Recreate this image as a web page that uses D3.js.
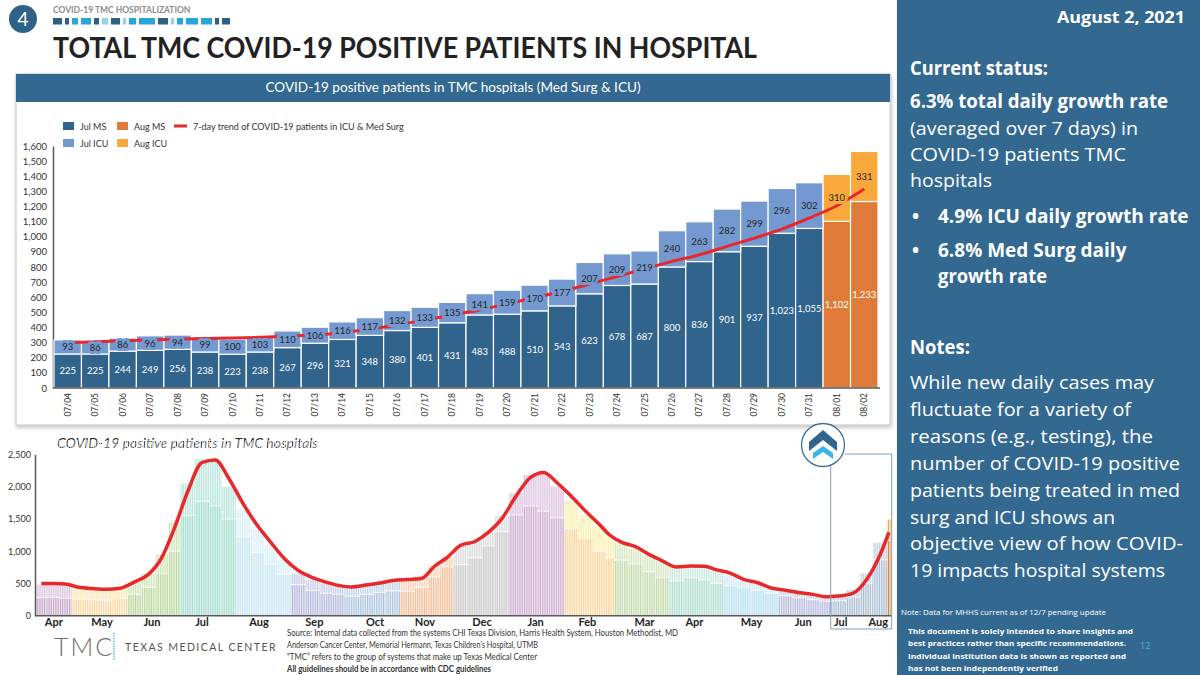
<!DOCTYPE html>
<html>
<head>
<meta charset="utf-8">
<script src="https://cdn.jsdelivr.net/npm/d3@7"></script>
<style>
  body { margin: 0; background: #fff; }
  svg { display: block; font-family: Lato, "Open Sans", sans-serif; }
</style>
</head>
<body>
<svg id="slide" width="1200" height="675"></svg>
<script>
// ---- top chart: July/Aug 2021 daily census ----
var days = ["07/04","07/05","07/06","07/07","07/08","07/09","07/10","07/11","07/12","07/13",
            "07/14","07/15","07/16","07/17","07/18","07/19","07/20","07/21","07/22","07/23",
            "07/24","07/25","07/26","07/27","07/28","07/29","07/30","07/31","08/01","08/02"];
var msValues  = [225,225,244,249,256,238,223,238,267,296,321,348,380,401,431,483,488,510,543,623,
                 678,687,800,836,901,937,1023,1055,1102,1233];
var icuValues = [93,86,86,96,94,99,100,103,110,106,116,117,132,133,135,141,159,170,177,207,
                 209,219,240,263,282,299,296,302,310,331];
var trendValues = [300,305,312,318,324,327,330,335,342,352,366,390,417,450,483,516,556,598,638,688,
                   737,788,837,881,936,991,1051,1124,1205,1315];
var topTicks = d3.range(0, 1601, 100);

// ---- bottom chart: history since April 2020, 4 periods per month ----
var monthStarts = ["2020-04-11","2020-05-01","2020-06-01","2020-07-01","2020-08-01","2020-09-01",
                   "2020-10-01","2020-11-01","2020-12-01","2021-01-01","2021-02-01","2021-03-01",
                   "2021-04-01","2021-05-01","2021-06-01","2021-07-01","2021-08-01"];
var lastDay = "2021-08-03";
var binTotals = [480,485,470, 430,420,410,420, 520,650,950,1450, 2050,2430,2400,2000,
                 1650,1350,1100,860, 650,560,500,460, 440,470,500,540, 560,620,780,910,
                 1080,1150,1300,1550, 1900,2180,2200,2000, 1780,1560,1380,1230,
                 1130,1040,930,830, 760,780,760,690, 630,540,490,420, 390,350,320,290,
                 330,399,657,1128, 1488];
var binMS = [280,285,270, 260,250,240,270, 330,440,650,1000, 1550,1770,1700,1500,
             1220,980,800,640, 480,390,350,330, 300,330,360,385, 375,440,600,760,
             790,900,1080,1300, 1560,1700,1620,1520, 1350,1200,1000,900,
             860,800,680,590, 540,590,560,500, 460,430,390,350, 310,280,250,220,
             235,289,497,865, 1168];
var binTrend = [500,498,490, 440,420,410,425, 520,640,900,1350, 1920,2370,2410,2130,
                1740,1400,1140,890, 700,590,520,470, 445,475,505,545, 560,575,770,905,
                1090,1150,1290,1500, 1850,2140,2220,2060, 1850,1620,1420,1250,
                1140,1070,950,850, 755,770,765,710, 660,560,510,430, 395,356,330,295,
                305,350,560,940, 1290];
var bottomTicks = [0,500,1000,1500,2000,2500];
var monthLabels = [["2020-04-21","Apr"],["2020-05-18","May"],["2020-06-15","Jun"],["2020-07-13","Jul"],
                   ["2020-08-14","Aug"],["2020-09-14","Sep"],["2020-10-18","Oct"],["2020-11-15","Nov"],
                   ["2020-12-17","Dec"],["2021-01-16","Jan"],["2021-02-14","Feb"],["2021-03-18","Mar"],
                   ["2021-04-15","Apr"],["2021-05-17","May"],["2021-06-15","Jun"],["2021-07-06","Jul"],
                   ["2021-07-27","Aug"]];
var monthColors = [["#c5a3c9","#dcc0df"],["#f9d7a0","#fce6b0"],["#b9d69c","#cfe3b5"],["#9edbcb","#b5e4d8"],
                   ["#c3e4f2","#d7eef7"],["#b3b5dc","#c8cae8"],["#a9c3de","#bfd3e8"],["#f5bb93","#f9d0b1"],
                   ["#c6c6c6","#d9d9d9"],["#cba8ce","#dcc0de"],["#fad398","#fcefaa"],["#c1d9a7","#d3e6bf"],
                   ["#acdccd","#c6e8dd"],["#b5ddf0","#cde9f5"],["#b4b7dd","#cacde9"],["#a8bcd2","#c0cfdf"],
                   ["#e07b39","#f9a83b"]];

var svg = d3.select("#slide");
var parse = d3.timeParse("%Y-%m-%d");
var fmt = d3.format(",");

// squeeze/stretch a text to the width it has on the slide
function fit(sel, w) {
  sel.each(function () {
    var len = this.getComputedTextLength();
    if (Math.abs(len - w) / w > 0.015) {
      this.setAttribute("textLength", w);
      this.setAttribute("lengthAdjust", "spacingAndGlyphs");
    }
  });
  return sel;
}

var defs = svg.append("defs");
defs.append("filter").attr("id", "shadow").attr("x", "-5%").attr("y", "-5%").attr("width", "110%").attr("height", "115%")
  .append("feDropShadow").attr("dx", 1).attr("dy", 2).attr("stdDeviation", 2).attr("flood-opacity", 0.25);

// ---------- header ----------
svg.append("circle").attr("cx", 23).attr("cy", 19).attr("r", 14).attr("fill", "#2e6289");
svg.append("text").attr("x", 23).attr("y", 26).attr("text-anchor", "middle")
  .attr("fill", "#fff").style("font-size", "19px").text("4");
fit(svg.append("text").attr("x", 53).attr("y", 13).attr("fill", "#8c8c8c")
  .style("font-size", "8.5px").style("font-weight", "bold").text("COVID-19 TMC HOSPITALIZATION"), 139);

var decor = [[9,0],[4,0],[6,1],[10,1],[5,0],[6,2],[9,0],[3,2],[7,1],[16,1],[10,0],[3,2],[6,1],[12,1],[11,1],[4,0],[8,0]];
var decorColors = ["#2d5f87", "#2aa5dc", "#93d2ef"];
var dx = 53;
decor.forEach(function (d) {
  svg.append("rect").attr("x", dx).attr("y", 18).attr("width", d[0]).attr("height", 6.5).attr("fill", decorColors[d[1]]);
  dx += d[0] + 3;
});
fit(svg.append("text").attr("x", 53).attr("y", 58).attr("fill", "#222")
  .style("font-size", "28px").style("font-weight", "bold")
  .text("TOTAL TMC COVID-19 POSITIVE PATIENTS IN HOSPITAL"), 704);

// ---------- top chart frame ----------
svg.append("rect").attr("x", 16).attr("y", 74).attr("width", 874).attr("height", 351)
  .attr("fill", "#fff").attr("stroke", "#c4c4c4").attr("filter", "url(#shadow)");
svg.append("rect").attr("x", 16).attr("y", 74).attr("width", 874).attr("height", 28).attr("fill", "#336891");
fit(svg.append("text").attr("x", 453).attr("y", 92).attr("text-anchor", "middle").attr("fill", "#fff")
  .style("font-size", "13px").text("COVID-19 positive patients in TMC hospitals (Med Surg & ICU)"), 375);

// ---------- top chart ----------
var topRows = days.map(function (d, i) {
  return { day: d, ms: msValues[i], icu: icuValues[i], trend: trendValues[i], aug: d.slice(0, 2) === "08" };
});
var xb = d3.scaleBand().domain(days).range([54, 878]).padding(0);
var yb = d3.scaleLinear().domain([0, 1600]).range([388, 146]);
var colMS = "#30648c", colICU = "#7399d0", colAugMS = "#df7a38", colAugICU = "#f9a93c";

var gTop = svg.append("g");
gTop.append("g").attr("transform", "translate(53,0)")
  .call(d3.axisLeft(yb).tickValues(topTicks).tickSize(0).tickPadding(6).tickFormat(fmt))
  .call(function (g) {
    g.select(".domain").attr("stroke", "#595959").attr("stroke-width", 1.5);
    g.selectAll("text").attr("fill", "#333").style("font-size", "9.5px").style("font-family", "Lato");
  });

gTop.selectAll("rect.ms").data(topRows).enter().append("rect").attr("class", "ms")
  .attr("x", function (d) { return xb(d.day); })
  .attr("width", xb.bandwidth())
  .attr("y", function (d) { return yb(d.ms); })
  .attr("height", function (d) { return yb(0) - yb(d.ms); })
  .attr("fill", function (d) { return d.aug ? colAugMS : colMS; })
  .attr("stroke", "#fff").attr("stroke-width", 1.2);
gTop.selectAll("rect.icu").data(topRows).enter().append("rect").attr("class", "icu")
  .attr("x", function (d) { return xb(d.day); })
  .attr("width", xb.bandwidth())
  .attr("y", function (d) { return yb(d.ms + d.icu); })
  .attr("height", function (d) { return yb(d.ms) - yb(d.ms + d.icu); })
  .attr("fill", function (d) { return d.aug ? colAugICU : colICU; })
  .attr("stroke", "#fff").attr("stroke-width", 1.2);

gTop.append("g").attr("transform", "translate(0,388)")
  .call(d3.axisBottom(xb).tickSize(0).tickSizeOuter(0))
  .call(function (g) {
    g.select(".domain").attr("stroke", "#595959").attr("stroke-width", 1.5).attr("d", "M53,0H880");
    g.selectAll("text").attr("fill", "#333").style("font-size", "8.5px").style("font-family", "Lato")
      .attr("y", 0).attr("x", -5).attr("dy", "0.35em")
      .attr("transform", "rotate(-90)").style("text-anchor", "end");
  });

var trendLine = d3.line()
  .x(function (d) { return xb(d.day) + xb.bandwidth() / 2; })
  .y(function (d) { return yb(d.trend); })
  .curve(d3.curveMonotoneX);
gTop.append("path").datum(topRows).attr("d", trendLine)
  .attr("fill", "none").attr("stroke", "#e8292c").attr("stroke-width", 3);

gTop.selectAll("text.msl").data(topRows).enter().append("text").attr("class", "msl")
  .attr("x", function (d) { return xb(d.day) + xb.bandwidth() / 2; })
  .attr("y", function (d) { return yb(d.ms / 2) + 3.5; })
  .attr("text-anchor", "middle").style("font-size", "9.5px")
  .attr("fill", "#fff")
  .text(function (d) { return fmt(d.ms); });
gTop.selectAll("text.icul").data(topRows).enter().append("text").attr("class", "icul")
  .attr("x", function (d) { return xb(d.day) + xb.bandwidth() / 2; })
  .attr("y", function (d) { return yb(d.ms + d.icu / 2) + 3.5; })
  .attr("text-anchor", "middle").style("font-size", "9.5px")
  .attr("fill", "#262626")
  .attr("stroke", function (d) { return d.aug ? colAugICU : colICU; })
  .attr("stroke-width", 6).attr("paint-order", "stroke").attr("stroke-linejoin", "round")
  .text(function (d) { return fmt(d.icu); });

// legend
var legendItems = [["Jul MS", colMS, 63, 122], ["Aug MS", colAugMS, 117, 122],
                   ["Jul ICU", colICU, 63, 139], ["Aug ICU", colAugICU, 117, 139]];
legendItems.forEach(function (l) {
  gTop.append("rect").attr("x", l[2]).attr("y", l[3]).attr("width", 11).attr("height", 8).attr("fill", l[1]);
  gTop.append("text").attr("x", l[2] + 17).attr("y", l[3] + 8).attr("fill", "#333")
    .style("font-size", "9px").text(l[0]);
});
gTop.append("line").attr("x1", 174).attr("x2", 187).attr("y1", 126).attr("y2", 126)
  .attr("stroke", "#e8292c").attr("stroke-width", 3);
gTop.append("text").attr("x", 193).attr("y", 130).attr("fill", "#333").style("font-size", "9px")
  .text("7-day trend of COVID-19 patients in ICU & Med Surg");

// ---------- bottom chart ----------
var cuts = [1, 9, 17, 24];
var bins = [];
monthStarts.forEach(function (s, mi) {
  var start = parse(s);
  var end = mi + 1 < monthStarts.length ? parse(monthStarts[mi + 1]) : parse(lastDay);
  var edges = [start].concat(cuts.map(function (c) {
    return new Date(start.getFullYear(), start.getMonth(), c);
  }).filter(function (d) { return d > start && d < end; }));
  edges.push(end);
  for (var k = 0; k < edges.length - 1; k++) bins.push({ x0: edges[k], x1: edges[k + 1], month: mi });
});
bins.forEach(function (b, i) { b.total = binTotals[i]; b.ms = binMS[i]; b.trend = binTrend[i]; });

var xt = d3.scaleTime().domain([parse(monthStarts[0]), parse(lastDay)]).range([36, 890.7]);
var yt = d3.scaleLinear().domain([0, 2500]).range([615.7, 454.3]);
var dayW = xt(parse("2020-04-12")) - xt(parse("2020-04-11"));

var gBot = svg.append("g");
fit(gBot.append("text").attr("x", 57).attr("y", 448).attr("fill", "#222")
  .style("font-size", "14px").style("font-style", "italic")
  .text("COVID-19 positive patients in TMC hospitals"), 263);

gBot.selectAll("rect.bms").data(bins).enter().append("rect").attr("class", "bms")
  .attr("x", function (d) { return xt(d.x0); })
  .attr("width", function (d) { return xt(d.x1) - xt(d.x0); })
  .attr("y", function (d) { return yt(d.ms); })
  .attr("height", function (d) { return yt(0) - yt(d.ms); })
  .attr("fill", function (d) { return monthColors[d.month][0]; });
gBot.selectAll("rect.bicu").data(bins).enter().append("rect").attr("class", "bicu")
  .attr("x", function (d) { return xt(d.x0); })
  .attr("width", function (d) { return xt(d.x1) - xt(d.x0); })
  .attr("y", function (d) { return yt(d.total); })
  .attr("height", function (d) { return yt(d.ms) - yt(d.total); })
  .attr("fill", function (d) { return monthColors[d.month][1]; });
gBot.selectAll("line.sep").data(bins).enter().append("line").attr("class", "sep")
  .attr("x1", function (d) { return xt(d.x0); })
  .attr("x2", function (d) { return xt(d.x1); })
  .attr("y1", function (d) { return yt(d.ms); })
  .attr("y2", function (d) { return yt(d.ms); })
  .attr("stroke", "#fff").attr("stroke-width", 1.2).attr("stroke-dasharray", "2,1.2");

// thin white gaps between days, as in the daily bars
var pat = defs.append("pattern").attr("id", "daygaps").attr("patternUnits", "userSpaceOnUse")
  .attr("x", 36).attr("y", 0).attr("width", dayW).attr("height", 10);
pat.append("rect").attr("x", 0).attr("y", 0).attr("width", 0.75).attr("height", 10).attr("fill", "#fff").attr("opacity", 0.9);
gBot.append("rect").attr("x", 36).attr("y", 440).attr("width", 855).attr("height", 176).attr("fill", "url(#daygaps)");

var botLine = d3.line()
  .x(function (d) { return xt(new Date((+d.x0 + +d.x1) / 2)); })
  .y(function (d) { return yt(d.trend); })
  .curve(d3.curveMonotoneX);
gBot.append("path").datum(bins).attr("d", botLine)
  .attr("fill", "none").attr("stroke", "#e8292c").attr("stroke-width", 3.5).attr("stroke-linejoin", "round");

gBot.append("g").attr("transform", "translate(35,0)")
  .call(d3.axisLeft(yt).tickValues(bottomTicks).tickSize(0).tickSizeOuter(0).tickPadding(4).tickFormat(fmt))
  .call(function (g) {
    g.select(".domain").attr("stroke", "#595959").attr("stroke-width", 1.5);
    g.selectAll("text").attr("fill", "#333").style("font-size", "9px").style("font-family", "Lato");
  });
gBot.append("line").attr("x1", 35).attr("x2", 891).attr("y1", 615.7).attr("y2", 615.7)
  .attr("stroke", "#595959").attr("stroke-width", 1.5);

gBot.selectAll("text.mon").data(monthLabels).enter().append("text").attr("class", "mon")
  .attr("x", function (d) { return xt(parse(d[0])); })
  .attr("y", 626).attr("text-anchor", "middle").attr("fill", "#222")
  .style("font-size", "11px").style("font-weight", "bold")
  .text(function (d) { return d[1]; });

// zoom-in marker (circle with chevrons and bracket round Jul/Aug)
gBot.append("path").attr("d", "M830.7,465V629H891.7V454H845")
  .attr("fill", "none").attr("stroke", "#7f9fbb").attr("stroke-width", 1);
gBot.append("circle").attr("cx", 823).attr("cy", 445).attr("r", 21.5)
  .attr("fill", "#fff").attr("stroke", "#3f6f94").attr("stroke-width", 1.3);
gBot.append("path").attr("d", "M823,430L837,442V451L823,440L809,451V442Z").attr("fill", "#2f6690");
gBot.append("path").attr("d", "M823,446L833,453V459L823,452L813,459V453Z").attr("fill", "#3ab4ea");

// ---------- footer ----------
svg.append("text").attr("x", 54).attr("y", 656).attr("fill", "#707070")
  .style("font-size", "25px").style("font-weight", "300").style("letter-spacing", "2px").text("TMC");
svg.append("line").attr("x1", 114).attr("x2", 114).attr("y1", 633).attr("y2", 660)
  .attr("stroke", "#4aa6d6").attr("stroke-width", 1.2).attr("stroke-dasharray", "1.5,1");
fit(svg.append("text").attr("x", 125).attr("y", 651).attr("fill", "#555")
  .style("font-size", "11px").style("letter-spacing", "1.5px").text("TEXAS MEDICAL CENTER"), 152);

var sourceLines = [
  ["Source: Internal data collected from the systems CHI Texas Division, Harris Health System, Houston Methodist, MD", 391, false],
  ["Anderson Cancer Center, Memorial Hermann, Texas Children\u2019s Hospital, UTMB", 251, false],
  ["\u201CTMC\u201D refers to the group of systems that make up Texas Medical Center", 250, false],
  ["All guidelines should be in accordance with CDC guidelines", 204, true]
];
sourceLines.forEach(function (s, i) {
  fit(svg.append("text").attr("x", 287).attr("y", 636 + i * 12).attr("fill", "#333")
    .style("font-size", "8.5px").style("font-weight", s[2] ? "bold" : "normal").text(s[0]), s[1]);
});

// ---------- right panel ----------
var rp = svg.append("g").style("font-family", "'Open Sans', sans-serif");
rp.append("rect").attr("x", 897).attr("y", 0).attr("width", 303).attr("height", 675).attr("fill", "#336891");
function ptext(str, x, y, size, bold, w, anchor) {
  var t = rp.append("text").attr("x", x).attr("y", y).attr("fill", "#fff")
    .attr("text-anchor", anchor || "start")
    .style("font-size", size + "px").style("font-weight", bold ? "bold" : "normal").text(str);
  if (w) fit(t, w);
  return t;
}
ptext("August 2, 2021", 1185, 23, 16, true, 128, "end");
ptext("Current status:", 910, 75, 19, true, 138);
ptext("6.3% total daily growth rate", 910, 108, 19, true, 258);
ptext("(averaged over 7 days) in", 910, 135, 19, false, 228);
ptext("COVID-19 patients TMC", 910, 161, 19, false, 216);
ptext("hospitals", 910, 187, 19, false, 82);
ptext("\u2022", 912, 223, 19, true);
ptext("4.9% ICU daily growth rate", 938, 223, 19, true, 247);
ptext("\u2022", 912, 257, 19, true);
ptext("6.8% Med Surg daily", 938, 257, 19, true, 190);
ptext("growth rate", 938, 283, 19, true, 109);
ptext("Notes:", 910, 354, 19, true, 60);
var notes = [["While new daily cases may", 244], ["fluctuate for a variety of", 221],
             ["reasons (e.g., testing), the", 243], ["number of COVID-19 positive", 270],
             ["patients being treated in med", 270], ["surg and ICU shows an", 205],
             ["objective view of how COVID-", 273], ["19 impacts hospital systems", 255]];
notes.forEach(function (n, i) { ptext(n[0], 910, 389 + i * 26.9, 19, false, n[1]); });
ptext("Note: Data for MHHS current as of 12/7 pending update", 901, 615, 7.5, false, 205);
var disclaimer = [["This document is solely intended to share insights and", 225],
                  ["best practices rather than specific recommendations.", 218],
                  ["Individual institution data is shown as reported and", 218],
                  ["has not been independently verified", 150]];
disclaimer.forEach(function (d, i) { ptext(d[0], 908, 634 + i * 12.3, 7.5, true, d[1]); });
rp.append("text").attr("x", 1140).attr("y", 649).attr("fill", "#4fb0e0").style("font-size", "9px").text("12");
</script>
</body>
</html>
